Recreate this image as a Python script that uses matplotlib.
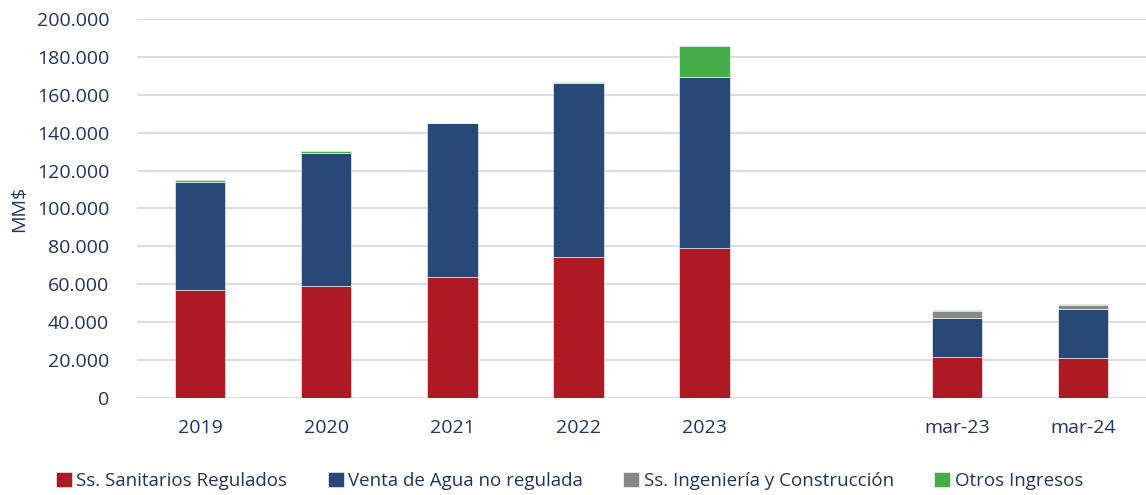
import numpy as np
import matplotlib.pyplot as plt
from matplotlib.ticker import FuncFormatter

plt.rcParams['font.family'] = ['Open Sans', 'DejaVu Sans']

# ── Data (MM$) ─────────────────────────────────────────────────────────────────
categories = ['2019', '2020', '2021', '2022', '2023', '', 'mar-23', 'mar-24']
sanitarios = [57.0, 59.3, 63.7, 74.2, 79.0, 0, 21.6, 21.3]
venta_agua = [57.1, 69.8, 81.3, 91.8, 90.6, 0, 20.8, 25.7]
ingenieria = [0.0, 0.0, 0.0, 0.0, 0.0, 0, 3.7, 2.2]
otros = [0.9, 1.2, 0.3, 0.5, 16.3, 0, 0.3, 0.4]

series = [
    ('Ss. Sanitarios Regulados', sanitarios, '#AD1A24'),
    ('Venta de Agua no regulada', venta_agua, '#284876'),
    ('Ss. Ingeniería y Construcción', ingenieria, '#888888'),
    ('Otros Ingresos', otros, '#47AD48'),
]

text_color = '#1F3463'
grid_color = '#DADCEB'

fig = plt.figure(figsize=(11.46, 4.95), dpi=100)
ax = fig.add_axes([0.1195, 0.196, 0.8805, 0.7656])

x = np.arange(len(categories))
bottom = np.zeros(len(categories))
for label, vals, color in series:
    v = np.array(vals) * 1000
    ax.bar(x, v, 0.4, bottom=bottom, color=color, label=label,
           edgecolor='white', linewidth=0.4, zorder=3)
    bottom += v

ax.set_xlim(-0.5, len(categories) - 0.5)
ax.set_ylim(0, 200000)
ax.set_yticks(np.arange(0, 200001, 20000))
ax.yaxis.set_major_formatter(FuncFormatter(lambda v, p: f'{int(v):,}'.replace(',', '.')))
ax.set_xticks(x)
ax.set_xticklabels(categories)
ax.tick_params(axis='both', length=0, labelsize=14, colors=text_color)
ax.tick_params(axis='y', pad=20)
ax.tick_params(axis='x', pad=15)
ax.set_ylabel('MM$', fontsize=14, color=text_color, labelpad=6)

ax.grid(axis='y', color=grid_color, linewidth=1.5, zorder=0)
for s in ax.spines.values():
    s.set_visible(False)

fig.legend(loc='center', bbox_to_anchor=(0.497, 0.028), ncol=4, frameon=False,
           fontsize=13.5, handlelength=0.85, handleheight=0.85, handletextpad=0.25,
           columnspacing=2.15, labelcolor=text_color)

plt.savefig('out.png', dpi=100)
